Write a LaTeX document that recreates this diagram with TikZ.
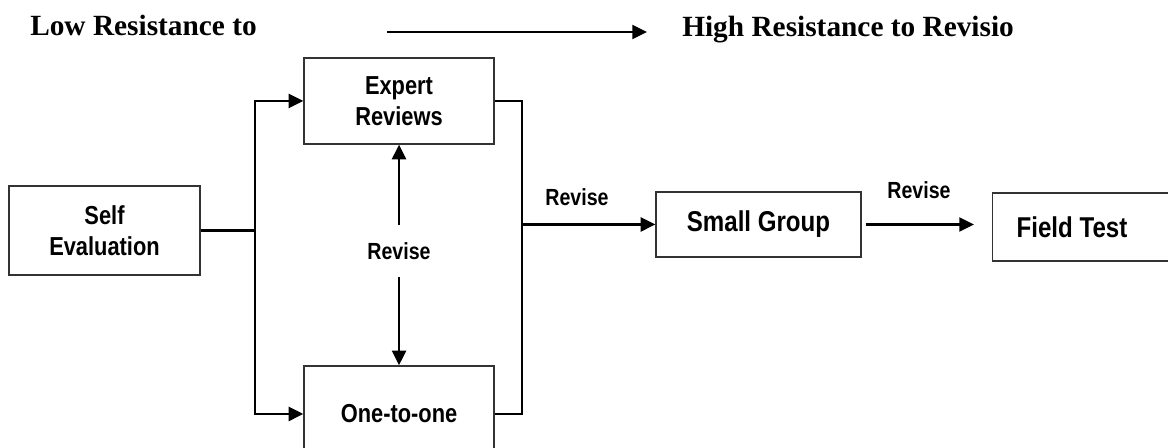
\documentclass[tikz,border=0pt]{standalone}
\usepackage{fontspec}
\setmainfont{Liberation Serif}
\newfontfamily\narrowsf[FakeStretch=0.84]{Liberation Sans}
\usetikzlibrary{arrows.meta}
\definecolor{boxline}{RGB}{51,51,51}

\begin{document}
\begin{tikzpicture}[x=0.75pt,y=0.75pt,yscale=-1,xscale=1,
    stage/.style={draw=boxline,line width=1pt,fill=white,inner sep=0pt,align=center,
      font=\narrowsf\bfseries\fontsize{19.5}{23}\selectfont},
    bigstage/.style={stage,font=\narrowsf\bfseries\fontsize{21.5}{25}\selectfont},
    tag/.style={inner sep=0pt,font=\narrowsf\bfseries\fontsize{17.5}{20}\selectfont},
    head/.style={anchor=base west,inner sep=0pt,font=\bfseries\fontsize{22}{26}\selectfont},
    link/.style={line width=1.6pt},
    flow/.style={link,-{Triangle[length=11pt,width=10.5pt]}}]
    \useasboundingbox (0,0) rectangle (1168,448);
    \clip (0,0) rectangle (1168,448);

    % Heading
    \node[head] (low) at (30,36) {Low Resistance to};
    \node[head] (high) at (682,37) {High Resistance to Revisio};
    \coordinate (hfrom) at (387,32);
    \coordinate (hto) at (647,32);
    \draw[flow] (hfrom) -- (hto);

    % Stages
    \node[stage,minimum width=143.25pt,minimum height=66.75pt] (self) at (104.5,230.5) {Self\\Evaluation};
    \node[stage,minimum width=142.5pt,minimum height=64.5pt] (expert) at (399,101) {Expert\\Reviews};
    \node[stage,minimum width=142.5pt,minimum height=72pt] (one) at (399,414) {One-to-one};
    \node[bigstage,minimum width=153.75pt,minimum height=48.75pt] (small) at (758.5,224.5) {Small Group};
    \node[bigstage,anchor=west,minimum height=51pt,text width=142pt,inner xsep=18pt,align=flush left] (field) at (992,227) {Field Test};

    % Revise labels
    \node[tag,minimum height=39pt] (revmid) at (399,251) {Revise};
    \node[tag] (revone) at (577,197) {Revise};
    \node[tag] (revtwo) at (919,190) {Revise};

    % Connectors
    \coordinate (lbus) at (255,226);
    \coordinate (rbus) at (522,226);
    \draw[link] (self.east) -- (self.east -| lbus);
    \draw[flow] (self.east -| lbus) |- (expert.west);
    \draw[flow] (self.east -| lbus) |- (one.west);
    \draw[flow] (revmid.north) -- (expert.south);
    \draw[flow] (revmid.south) -- (one.north);
    \draw[link] (expert.east) -| (rbus |- one.east) -- (one.east);
    \draw[flow] (rbus |- small.west) -- (small.west);
    \draw[flow,shorten <=3pt,shorten >=13.5pt] (small.east) -- (small.east -| field.west);

\end{tikzpicture}
\end{document}
